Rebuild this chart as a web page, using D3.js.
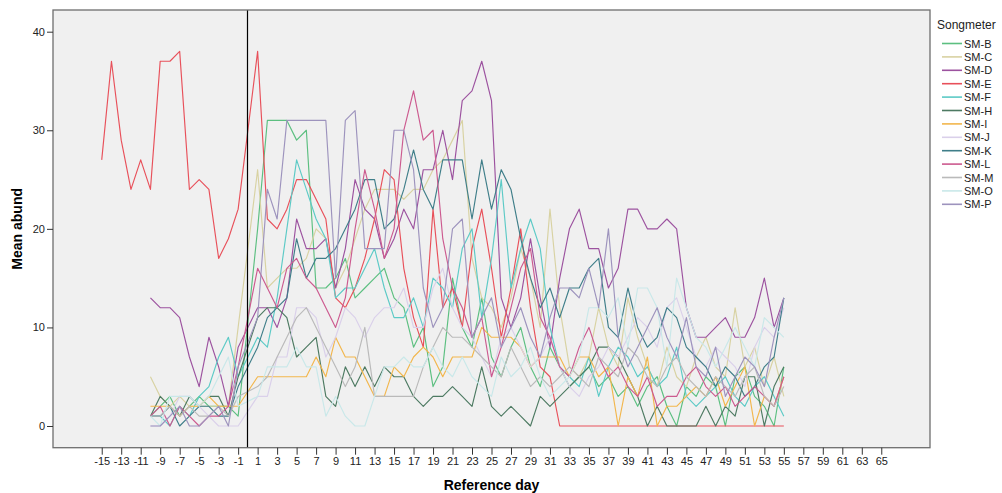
<!DOCTYPE html>
<html>
<head>
<meta charset="utf-8">
<script src="https://cdn.jsdelivr.net/npm/d3@7"></script>
<style>
  body { margin: 0; background: #fff; }
  svg { font-family: "Liberation Sans", Arial, sans-serif; }
</style>
</head>
<body>
<div id="chart"></div>
<script>
// Reference days: pre-period (-10..-1; SM-E from -15) and post-period (1..55)
const preDays = d3.range(-10, 0);
const preDaysE = d3.range(-15, 0);
const postDays = d3.range(1, 56);

const xTicks = [-15, -13, -11, -9, -7, -5, -3, -1, 1, 3, 5, 7, 9, 11, 13, 15, 17, 19, 21, 23, 25, 27, 29, 31,
  33, 35, 37, 39, 41, 43, 45, 47, 49, 51, 53, 55, 57, 59, 61, 63, 65];
const yTicks = [0, 10, 20, 30, 40];

const songmeters = ['SM-B', 'SM-C', 'SM-D', 'SM-E', 'SM-F', 'SM-H', 'SM-I', 'SM-J', 'SM-K', 'SM-L', 'SM-M', 'SM-O', 'SM-P'];
const colors = ['#5cbf80', '#d8d2a2', '#9c529f', '#e8505a', '#5ccac6', '#4d7a62', '#f2b64c',
  '#dad0ea', '#3f7e89', '#cc5a8f', '#bababa', '#c9e8e9', '#9d93bd'];

// mean abundance before day 0
const preB = [1, 2, 3, 1, 2, 3, 2, 2, 2, 1];
const preC = [5, 3, 2, 3, 2, 2, 2, 2, 2, 10];
const preD = [13, 12, 12, 11, 7, 4, 9, 6, 2, 8];
const preE = [27, 37, 29, 24, 27, 24, 37, 37, 38, 24, 25, 24, 17, 19, 22];
const preF = [1, 1, 0, 2, 1, 3, 4, 7, 9, 5];
const preH = [1, 3, 2, 1, 3, 2, 3, 3, 1, 5];
const preI = [2, 2, 2, 1, 2, 2, 3, 2, 2, 2];
const preJ = [0, 0, 1, 3, 3, 2, 1, 0, 0, 0];
const preK = [1, 1, 2, 0, 1, 2, 2, 1, 1, 4];
const preL = [1, 2, 0, 2, 1, 0, 1, 1, 2, 6];
const preM = [1, 1, 2, 1, 2, 1, 1, 2, 1, 3];
const preO = [1, 0, 3, 3, 3, 2, 3, 5, 7, 2];
const preP = [0, 0, 1, 2, 0, 0, 1, 2, 0, 6];

// mean abundance, days 1..55
const postB = [20, 31, 31, 31, 29, 30, 14, 14, 15, 17, 13, 14, 15, 16, 13, 12, 8, 10, 4, 6,
  15, 10, 8, 13, 7, 5, 8, 10, 6, 4, 8, 6, 4, 5, 6, 4, 5, 3, 4, 2, 4, 5, 2, 0, 4, 3, 5, 4, 0, 5, 6, 3, 2, 0, 6];
const postC = [26, 14, 15, 16, 16, 17, 20, 19, 14, 16, 19, 22, 24, 24, 24, 23, 24, 24, 26, 27,
  29, 31, 17, 13, 12, 10, 13, 18, 15, 10, 22, 12, 6, 5, 7, 12, 8, 6, 13, 9, 6, 4, 8, 5, 4, 7, 9, 6, 5, 12, 6, 8, 4, 7, 3];
const postD = [12, 12, 10, 13, 21, 18, 18, 19, 14, 18, 25, 22, 21, 17, 19, 22, 20, 26, 26, 30,
  25, 33, 34, 37, 33, 13, 10, 13, 19, 13, 8, 15, 20, 22, 18, 18, 14, 16, 22, 22, 20, 20, 21, 20, 12, 9, 9, 10, 11, 9, 9, 11, 15, 10, 13];
const postE = [38, 21, 20, 22, 25, 25, 23, 21, 13, 12, 14, 17, 21, 26, 25, 16, 11, 8, 22, 12,
  14, 10, 18, 22, 16, 9, 14, 20, 12, 6, 5, 0, 0, 0, 0, 0, 0, 0, 0, 0, 0, 0, 0, 0, 0, 0, 0, 0, 0, 0, 0, 0, 0, 0, 0];
const postF = [9, 8, 13, 20, 27, 24, 21, 19, 13, 14, 14, 16, 18, 14, 11, 11, 13, 10, 15, 14,
  12, 18, 20, 11, 17, 25, 14, 18, 21, 18, 10, 6, 5, 4, 7, 3, 6, 8, 7, 5, 6, 4, 5, 8, 3, 2, 3, 4, 5, 3, 2, 4, 5, 3, 1];
const postH = [11, 12, 12, 11, 7, 8, 9, 3, 2, 6, 4, 6, 4, 6, 5, 5, 3, 2, 3, 3,
  4, 3, 2, 6, 2, 1, 2, 1, 0, 3, 2, 3, 4, 5, 6, 8, 8, 7, 5, 3, 0, 2, 0, 0, 0, 0, 2, 0, 2, 1, 5, 5, 0, 4, 6];
const postI = [5, 5, 5, 5, 5, 5, 7, 5, 9, 7, 7, 5, 3, 3, 6, 5, 7, 8, 7, 5,
  7, 7, 7, 10, 9, 9, 9, 8, 6, 7, 7, 7, 5, 7, 7, 5, 6, 0, 5, 3, 7, 0, 2, 2, 3, 4, 3, 5, 2, 4, 6, 0, 3, 2, 5];
const postJ = [3, 3, 7, 7, 12, 12, 11, 7, 9, 12, 11, 9, 11, 12, 12, 14, 10, 10, 14, 16,
  12, 10, 9, 7, 5, 9, 10, 8, 6, 7, 9, 6, 4, 3, 5, 6, 8, 7, 9, 11, 10, 8, 12, 13, 10, 7, 6, 8, 7, 6, 4, 8, 10, 9, 12];
const postK = [8, 11, 12, 13, 19, 15, 17, 17, 18, 20, 22, 25, 25, 20, 21, 24, 28, 24, 22, 27,
  27, 27, 21, 27, 22, 26, 24, 19, 15, 12, 14, 11, 14, 14, 16, 17, 10, 9, 14, 10, 8, 9, 12, 11, 8, 7, 6, 4, 6, 5, 3, 4, 6, 7, 13];
const postL = [16, 14, 12, 16, 17, 15, 14, 12, 10, 13, 20, 26, 22, 17, 20, 30, 34, 29, 30, 19,
  14, 12, 9, 11, 5, 8, 12, 16, 18, 11, 9, 6, 5, 8, 10, 7, 5, 6, 4, 3, 5, 2, 3, 3, 5, 6, 4, 3, 4, 2, 3, 4, 3, 2, 5];
const postM = [4, 5, 7, 9, 11, 12, 10, 8, 6, 4, 6, 10, 3, 3, 3, 3, 3, 6, 8, 10,
  9, 9, 8, 7, 6, 5, 8, 6, 4, 5, 4, 5, 6, 5, 4, 7, 6, 5, 8, 7, 5, 4, 6, 7, 5, 4, 3, 5, 4, 3, 5, 6, 3, 2, 4];
const postO = [3, 6, 6, 6, 8, 6, 6, 1, 3, 1, 0, 0, 3, 6, 6, 7, 6, 6, 8, 6,
  5, 7, 5, 4, 3, 7, 5, 6, 8, 5, 3, 4, 5, 7, 12, 12, 11, 13, 8, 14, 14, 12, 6, 15, 12, 9, 8, 6, 8, 10, 8, 6, 11, 10, 9];
const postP = [11, 24, 21, 31, 31, 31, 31, 31, 15, 31, 32, 18, 18, 18, 30, 30, 26, 14, 10, 12,
  20, 21, 9, 11, 13, 8, 10, 12, 9, 7, 11, 14, 14, 13, 16, 12, 20, 9, 6, 8, 10, 12, 9, 7, 11, 6, 5, 8, 3, 5, 7, 6, 4, 9, 13];

const preValues = [preB, preC, preD, preE, preF, preH, preI, preJ, preK, preL, preM, preO, preP];
const postValues = [postB, postC, postD, postE, postF, postH, postI, postJ, postK, postL, postM, postO, postP];

const width = 1002;
const height = 493;
const plot = { left: 53, right: 930, top: 10, bottom: 447.7 };

const series = songmeters.map((name, i) => {
  const pd = name === 'SM-E' ? preDaysE : preDays;
  const pts = pd.map((d, j) => ({ day: d, value: preValues[i][j] }))
    .concat(postDays.map((d, j) => ({ day: d, value: postValues[i][j] })));
  return { name, color: colors[i], points: pts };
});

const svg = d3.select('#chart').append('svg')
  .attr('width', width)
  .attr('height', height);

const xScale = d3.scaleLinear().domain([-20, 70]).range([plot.left, plot.right]);
const yScale = d3.scaleLinear().domain([-2.2, 42.2]).range([plot.bottom, plot.top]);

// plot background
svg.append('rect')
  .attr('x', plot.left).attr('y', plot.top)
  .attr('width', plot.right - plot.left).attr('height', plot.bottom - plot.top)
  .attr('fill', '#f0f0f0');

// lines
const line = d3.line().x(d => xScale(d.day)).y(d => yScale(d.value));
svg.append('g')
  .selectAll('path')
  .data(series)
  .join('path')
  .attr('d', d => line(d.points))
  .attr('fill', 'none')
  .attr('stroke', d => d.color)
  .attr('stroke-width', 1.15)
  .attr('stroke-linejoin', 'round');

// reference line at day 0
svg.append('line')
  .attr('x1', Math.round(xScale(0)) - 0.5).attr('x2', Math.round(xScale(0)) - 0.5)
  .attr('y1', plot.top).attr('y2', plot.bottom)
  .attr('stroke', '#000').attr('stroke-width', 1.2);

// frame
svg.append('rect')
  .attr('x', plot.left).attr('y', plot.top)
  .attr('width', plot.right - plot.left).attr('height', plot.bottom - plot.top)
  .attr('fill', 'none')
  .attr('stroke', '#6e6e6e')
  .attr('stroke-width', 1.3);

// axes
const yAxis = svg.append('g')
  .attr('transform', `translate(${plot.left},0)`)
  .call(d3.axisLeft(yScale).tickValues(yTicks).tickSize(6).tickPadding(2).tickFormat(d => String(d)));
const xAxis = svg.append('g')
  .attr('transform', `translate(0,${plot.bottom})`)
  .call(d3.axisBottom(xScale).tickValues(xTicks).tickSize(7).tickPadding(3).tickFormat(d => String(d)));

[xAxis, yAxis].forEach(ax => {
  ax.select('.domain').remove();
  ax.selectAll('line').attr('stroke', '#333');
  ax.selectAll('text').attr('fill', '#222').style('font-size', '11px')
    .style('font-family', '"Liberation Sans", Arial, sans-serif');
});

// axis titles
svg.append('text')
  .attr('transform', `translate(22,${(plot.top + plot.bottom) / 2}) rotate(-90)`)
  .attr('text-anchor', 'middle')
  .style('font-size', '14px').style('font-weight', 'bold')
  .text('Mean abund');

svg.append('text')
  .attr('x', (plot.left + plot.right) / 2 + 0)
  .attr('y', 490)
  .attr('text-anchor', 'middle')
  .style('font-size', '14px').style('font-weight', 'bold')
  .text('Reference day');

// legend
const legend = svg.append('g').attr('transform', 'translate(937,0)');
legend.append('text')
  .attr('x', 0).attr('y', 29)
  .style('font-size', '12px').attr('fill', '#222')
  .text('Songmeter');

const items = legend.selectAll('g.item')
  .data(series)
  .join('g')
  .attr('class', 'item')
  .attr('transform', (d, i) => `translate(0,${43.5 + i * 13.4})`);
items.append('line')
  .attr('x1', 5).attr('x2', 25)
  .attr('stroke', d => d.color).attr('stroke-width', 1.6);
items.append('text')
  .attr('x', 27).attr('y', 4)
  .style('font-size', '11px').attr('fill', '#222')
  .text(d => d.name);
</script>
</body>
</html>
